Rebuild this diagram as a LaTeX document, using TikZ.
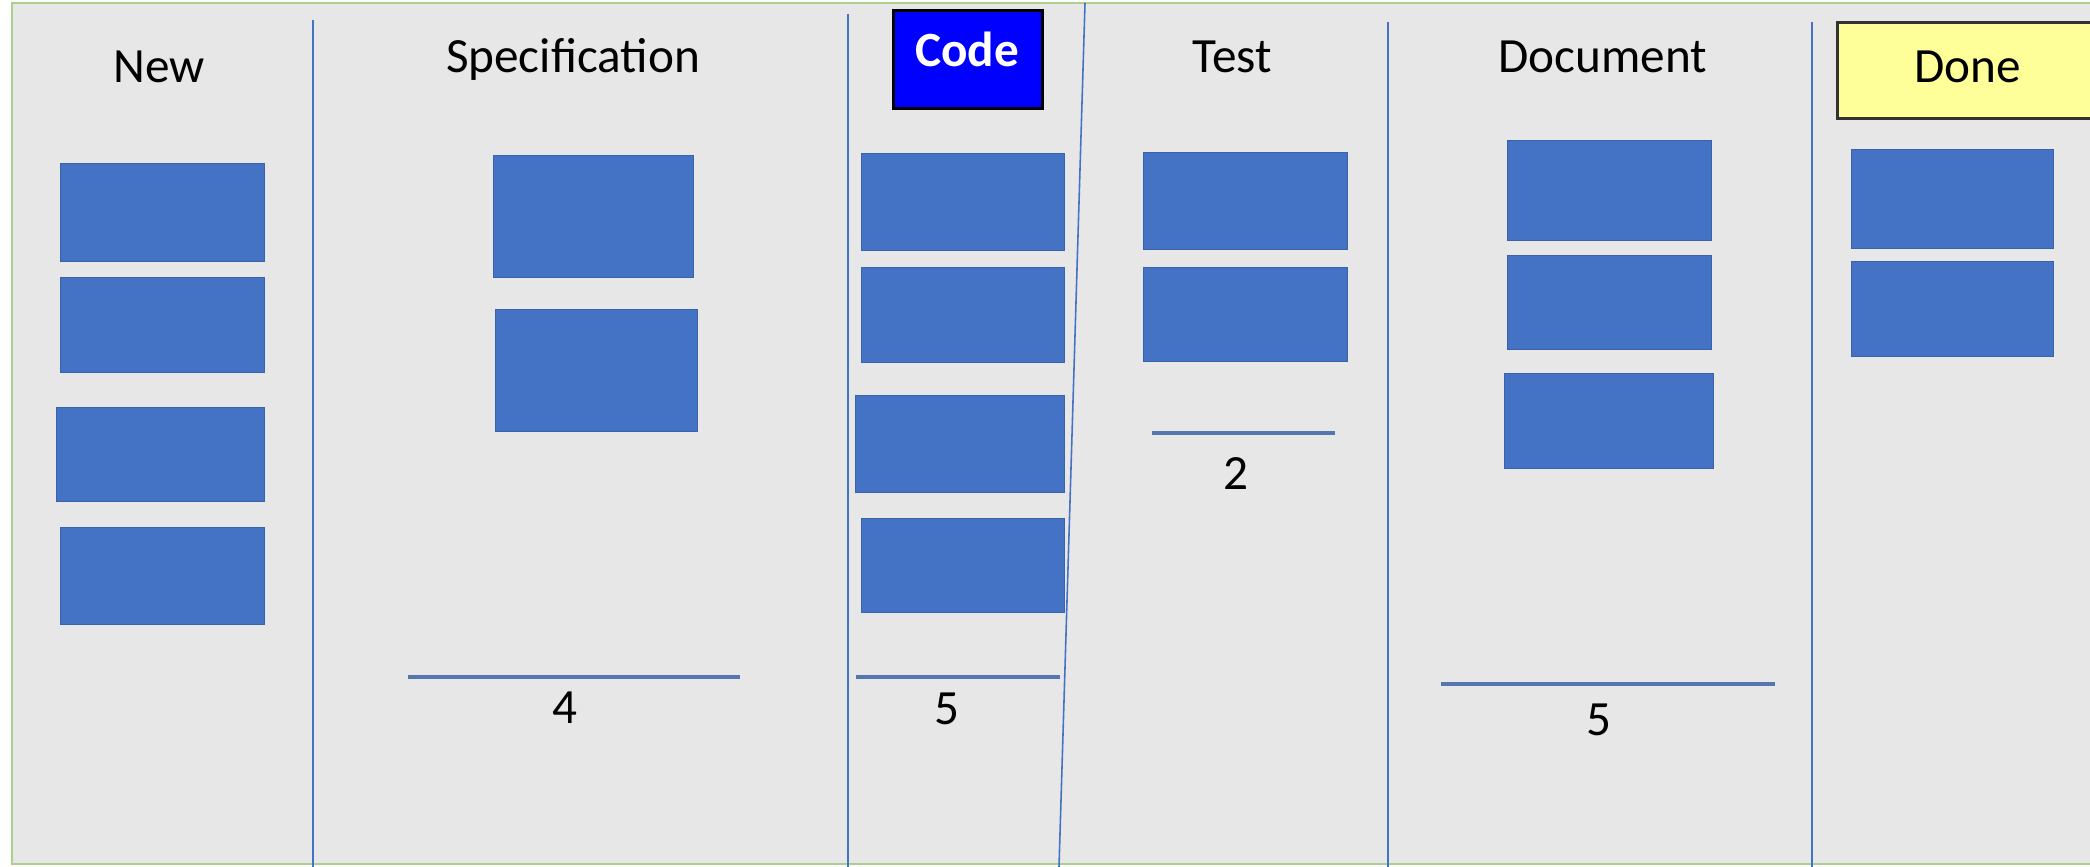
\documentclass[tikz,border=0pt]{standalone}
\usepackage{fontspec}
\setmainfont{Carlito}
\definecolor{boardbg}{HTML}{E7E7E7}
\definecolor{boardedge}{HTML}{A9D18E}
\definecolor{lane}{HTML}{4472C4}
\definecolor{cardfill}{HTML}{4472C4}
\definecolor{cardedge}{HTML}{3A62A8}
\definecolor{codeblue}{HTML}{0000FF}
\definecolor{doneyellow}{HTML}{FFFF99}
\tikzset{
  card/.style={fill=cardfill, draw=cardedge, line width=0.4pt},
  lanerule/.style={draw=lane, line width=0.45pt},
  limitrule/.style={draw=lane!70!gray, line width=0.9pt},
  head/.style={font=\fontsize{14}{16}\selectfont, anchor=base, inner sep=0pt},
  count/.style={font=\fontsize{14}{16}\selectfont, anchor=base, inner sep=0pt},
}
\newcommand{\cardbox}[5]{\node[card, minimum width=#4*0.01cm, minimum height=#5*0.01cm, inner sep=0pt, anchor=north west] (#1) at (#2,#3) {};}
\begin{document}
\begin{tikzpicture}[x=0.01cm, y=-0.01cm]
\useasboundingbox (0,0) rectangle (2090,867);
\fill[white] (0,0) rectangle (2090,867);
% board
\draw[fill=boardbg, draw=boardedge, line width=0.8pt] (12,3) rectangle (2110,864);
% lane separators
\draw[lanerule] (313,20) -- (313,867);
\draw[lanerule] (848,14) -- (848,867);
\draw[lanerule] (1085,3) -- (1059,867);
\draw[lanerule] (1388,22) -- (1388,867);
\draw[lanerule] (1812,22) -- (1812,867);
% column headers
\node[head] (hNew) at (159,83) {New};
\node[head] (hSpec) at (573,73) {Specification};
\node[fill=codeblue, draw=black, line width=0.8pt, minimum width=149*0.01cm, minimum height=98*0.01cm, anchor=north west, inner sep=0pt] (codebox) at (892,9) {};
\node[head, text=white, font=\fontsize{14}{16}\selectfont\bfseries] (hCode) at (967,67) {Code};
\node[head] (hTest) at (1232,73) {Test};
\node[head] (hDoc) at (1603,73) {Document};
\node[fill=doneyellow, draw=black!80, line width=0.8pt, minimum width=270*0.01cm, minimum height=96*0.01cm, anchor=north west, inner sep=0pt] (donebox) at (1836,21) {};
\node[head] (hDone) at (1968,83) {Done};
% New
\cardbox{n1}{60}{163}{204}{98}
\cardbox{n2}{60}{277}{204}{95}
\cardbox{n3}{56}{407}{208}{94}
\cardbox{n4}{60}{527}{204}{97}
% Specification
\cardbox{s1}{493}{155}{200}{122}
\cardbox{s2}{495}{309}{202}{122}
\coordinate (sL) at (408,677);
\coordinate (sR) at (740,677);
\draw[limitrule] (sL) -- (sR);
\node[count] (sN) at (565,723) {4};
% Code
\cardbox{c1}{861}{153}{203}{97}
\cardbox{c2}{861}{267}{203}{95}
\cardbox{c3}{855}{395}{209}{97}
\cardbox{c4}{861}{518}{203}{94}
\coordinate (cL) at (856,677);
\coordinate (cR) at (1060,677);
\draw[limitrule] (cL) -- (cR);
\node[count] (cN) at (947,724) {5};
% Test
\cardbox{t1}{1143}{152}{204}{97}
\cardbox{t2}{1143}{267}{204}{94}
\coordinate (tL) at (1152,433);
\coordinate (tR) at (1335,433);
\draw[limitrule] (tL) -- (tR);
\node[count] (tN) at (1236,489) {2};
% Document
\cardbox{d1}{1507}{140}{204}{100}
\cardbox{d2}{1507}{255}{204}{94}
\cardbox{d3}{1504}{373}{209}{95}
\coordinate (dL) at (1441,684);
\coordinate (dR) at (1775,684);
\draw[limitrule] (dL) -- (dR);
\node[count] (dN) at (1599,735) {5};
% Done
\cardbox{f1}{1851}{149}{202}{99}
\cardbox{f2}{1851}{261}{202}{95}
\end{tikzpicture}
\end{document}
